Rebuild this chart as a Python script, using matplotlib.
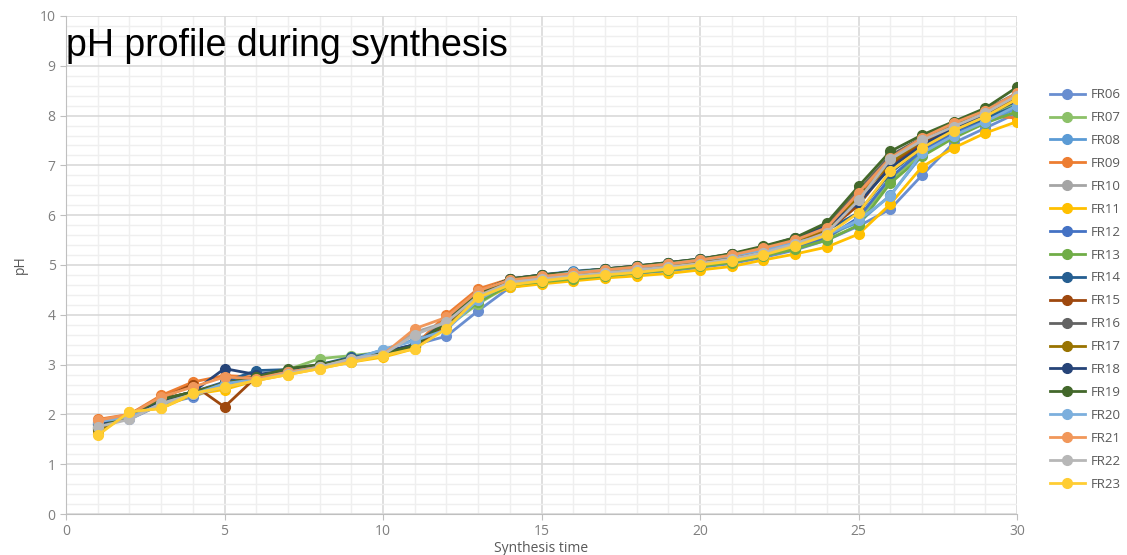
import matplotlib
matplotlib.use('Agg')
import matplotlib.pyplot as plt
from matplotlib.ticker import MultipleLocator

# synthesis time steps
time = list(range(1, 31))

# pH readings per batch
FR06 = [1.85, 1.90, 2.20, 2.35, 2.60, 2.72, 2.85, 2.95, 3.05, 3.20, 3.40, 3.57, 4.08, 4.55, 4.65, 4.72, 4.78, 4.83, 4.88, 4.95, 5.03, 5.15, 5.30, 5.50, 5.78, 6.12, 6.80, 7.45, 7.75, 8.05]
FR07 = [1.75, 2.00, 2.25, 2.40, 2.62, 2.75, 2.90, 3.12, 3.18, 3.25, 3.35, 3.75, 4.22, 4.60, 4.68, 4.75, 4.82, 4.88, 4.93, 5.00, 5.08, 5.20, 5.35, 5.55, 5.90, 6.70, 7.25, 7.65, 7.95, 8.25]
FR08 = [1.82, 1.95, 2.18, 2.38, 2.62, 2.72, 2.85, 2.97, 3.10, 3.30, 3.50, 3.72, 4.30, 4.70, 4.80, 4.88, 4.92, 4.97, 5.03, 5.10, 5.18, 5.30, 5.45, 5.62, 5.85, 6.40, 7.20, 7.60, 7.85, 8.15]
FR09 = [1.90, 2.00, 2.38, 2.65, 2.78, 2.75, 2.85, 2.95, 3.10, 3.20, 3.38, 4.00, 4.52, 4.72, 4.78, 4.83, 4.90, 4.95, 5.02, 5.10, 5.20, 5.35, 5.50, 5.75, 6.40, 7.18, 7.55, 7.85, 8.00, 7.95]
FR10 = [1.80, 1.92, 2.20, 2.40, 2.55, 2.70, 2.82, 2.95, 3.10, 3.20, 3.65, 3.85, 4.35, 4.65, 4.73, 4.80, 4.86, 4.92, 4.98, 5.05, 5.15, 5.28, 5.45, 5.70, 6.30, 7.10, 7.45, 7.75, 8.05, 8.40]
FR11 = [1.60, 2.05, 2.12, 2.40, 2.50, 2.68, 2.80, 2.92, 3.05, 3.15, 3.32, 3.75, 4.30, 4.55, 4.62, 4.68, 4.74, 4.78, 4.83, 4.90, 4.97, 5.10, 5.22, 5.36, 5.62, 6.22, 6.97, 7.35, 7.65, 7.88]
FR12 = [1.78, 1.95, 2.25, 2.38, 2.65, 2.75, 2.85, 2.95, 3.08, 3.20, 3.35, 3.80, 4.35, 4.62, 4.70, 4.76, 4.82, 4.87, 4.92, 5.00, 5.08, 5.20, 5.35, 5.55, 5.95, 6.75, 7.30, 7.65, 7.90, 8.20]
FR13 = [1.72, 1.98, 2.28, 2.42, 2.62, 2.72, 2.88, 2.98, 3.12, 3.22, 3.38, 3.80, 4.25, 4.60, 4.66, 4.72, 4.78, 4.84, 4.90, 4.97, 5.05, 5.18, 5.32, 5.50, 5.80, 6.64, 7.18, 7.55, 7.85, 8.08]
FR14 = [1.80, 1.98, 2.30, 2.45, 2.65, 2.88, 2.90, 3.00, 3.15, 3.25, 3.40, 3.85, 4.40, 4.70, 4.78, 4.85, 4.90, 4.96, 5.03, 5.10, 5.20, 5.33, 5.50, 5.70, 6.05, 6.85, 7.35, 7.70, 7.95, 8.20]
FR15 = [1.70, 2.00, 2.32, 2.60, 2.15, 2.75, 2.85, 2.95, 3.10, 3.22, 3.35, 3.82, 4.40, 4.68, 4.75, 4.82, 4.88, 4.93, 4.98, 5.06, 5.15, 5.28, 5.45, 5.68, 6.20, 7.00, 7.45, 7.75, 8.05, 8.35]
FR16 = [1.75, 2.00, 2.30, 2.45, 2.62, 2.75, 2.88, 2.98, 3.12, 3.22, 3.40, 3.88, 4.45, 4.72, 4.80, 4.86, 4.92, 4.98, 5.04, 5.12, 5.22, 5.36, 5.52, 5.80, 6.50, 7.20, 7.55, 7.85, 8.12, 8.45]
FR17 = [1.68, 1.98, 2.30, 2.45, 2.62, 2.75, 2.88, 2.98, 3.10, 3.22, 3.38, 3.85, 4.42, 4.68, 4.75, 4.82, 4.88, 4.93, 5.00, 5.08, 5.18, 5.32, 5.48, 5.72, 6.35, 7.05, 7.50, 7.80, 8.10, 8.38]
FR18 = [1.80, 1.98, 2.28, 2.45, 2.92, 2.80, 2.88, 2.98, 3.12, 3.25, 3.40, 3.85, 4.45, 4.72, 4.80, 4.86, 4.92, 4.98, 5.05, 5.12, 5.22, 5.36, 5.55, 5.78, 6.25, 6.95, 7.40, 7.75, 8.00, 8.30]
FR19 = [1.72, 2.00, 2.30, 2.45, 2.62, 2.75, 2.92, 3.00, 3.12, 3.22, 3.38, 3.85, 4.45, 4.72, 4.80, 4.86, 4.92, 4.98, 5.05, 5.12, 5.23, 5.38, 5.55, 5.85, 6.58, 7.28, 7.61, 7.88, 8.15, 8.57]
FR20 = [1.85, 1.95, 2.20, 2.40, 2.62, 2.70, 2.85, 2.95, 3.10, 3.30, 3.48, 3.70, 4.30, 4.65, 4.75, 4.85, 4.90, 4.95, 5.02, 5.10, 5.18, 5.30, 5.45, 5.60, 5.90, 6.38, 7.25, 7.60, 7.88, 8.20]
FR21 = [1.88, 2.00, 2.35, 2.55, 2.75, 2.72, 2.85, 2.95, 3.10, 3.20, 3.72, 3.95, 4.48, 4.70, 4.77, 4.83, 4.90, 4.96, 5.02, 5.10, 5.20, 5.34, 5.50, 5.75, 6.45, 7.15, 7.55, 7.85, 8.10, 8.45]
FR22 = [1.75, 1.90, 2.22, 2.40, 2.55, 2.68, 2.82, 2.95, 3.12, 3.20, 3.60, 3.85, 4.38, 4.65, 4.72, 4.78, 4.84, 4.90, 4.96, 5.03, 5.12, 5.25, 5.42, 5.65, 6.30, 7.12, 7.50, 7.78, 8.05, 8.40]
FR23 = [1.58, 2.05, 2.12, 2.42, 2.55, 2.68, 2.80, 2.92, 3.05, 3.18, 3.32, 3.72, 4.35, 4.60, 4.68, 4.75, 4.80, 4.85, 4.92, 5.00, 5.08, 5.20, 5.38, 5.60, 6.05, 6.88, 7.35, 7.70, 7.98, 8.33]

names = ['FR06', 'FR07', 'FR08', 'FR09', 'FR10', 'FR11', 'FR12', 'FR13', 'FR14',
         'FR15', 'FR16', 'FR17', 'FR18', 'FR19', 'FR20', 'FR21', 'FR22', 'FR23']
series = [FR06, FR07, FR08, FR09, FR10, FR11, FR12, FR13, FR14,
          FR15, FR16, FR17, FR18, FR19, FR20, FR21, FR22, FR23]

# office-like palette
colors = ['#698ED0', '#8CC168', '#5B9BD5', '#ED7D31', '#A5A5A5', '#FFC000',
          '#4472C4', '#70AD47', '#255E91', '#9E480E', '#636363', '#997300',
          '#264478', '#43682B', '#7CAFDD', '#F1975A', '#B7B7B7', '#FFCD33']

fig = plt.figure(figsize=(11.27, 5.55), dpi=100)
ax = fig.add_axes([66 / 1127, 1 - 514 / 555, (1017 - 66) / 1127, (514 - 16) / 555])

for name, vals, c in zip(names, series, colors):
    ax.plot(time, vals, color=c, lw=2, marker='o', ms=7, label=name)

ax.set_xlim(0, 30)
ax.set_ylim(0, 10)
ax.xaxis.set_major_locator(MultipleLocator(5))
ax.xaxis.set_minor_locator(MultipleLocator(1))
ax.yaxis.set_major_locator(MultipleLocator(1))
ax.yaxis.set_minor_locator(MultipleLocator(0.2))

# grid
ax.grid(which='major', color='#d9d9d9', lw=1.2)
ax.grid(which='minor', color='#efefef', lw=1)
ax.set_axisbelow(True)
for s in ['top', 'right']:
    ax.spines[s].set_visible(False)
for s in ['left', 'bottom']:
    ax.spines[s].set_color('#bfbfbf')
ax.tick_params(which='major', length=4, color='#bfbfbf', labelcolor='#7f7f7f', labelsize=10)
ax.tick_params(which='minor', length=0)
for lab in ax.get_xticklabels() + ax.get_yticklabels():
    lab.set_family('Open Sans')

# title sits inside the plot area
ax.text(0.0, 0.94, 'pH profile during synthesis', transform=ax.transAxes,
        fontsize=27, family='Liberation Sans', color='black', va='center', ha='left')

fig.text(20 / 1127, 1 - 265 / 555, 'pH', rotation=90, va='center', ha='center',
         fontsize=10, color='#595959', family='Open Sans')
fig.text(541 / 1127, 1 - 549 / 555, 'Synthesis time', va='center', ha='center',
         fontsize=10, color='#595959', family='Open Sans')

leg = fig.legend(loc='upper left', bbox_to_anchor=(1045 / 1127, 1 - 83 / 555),
                 frameon=False, fontsize=9.5, labelspacing=0.75, handlelength=2.6,
                 handletextpad=0.5, borderaxespad=0)
for t in leg.get_texts():
    t.set_color('#595959')
    t.set_family('Open Sans')

fig.savefig('out.png', dpi=100)
